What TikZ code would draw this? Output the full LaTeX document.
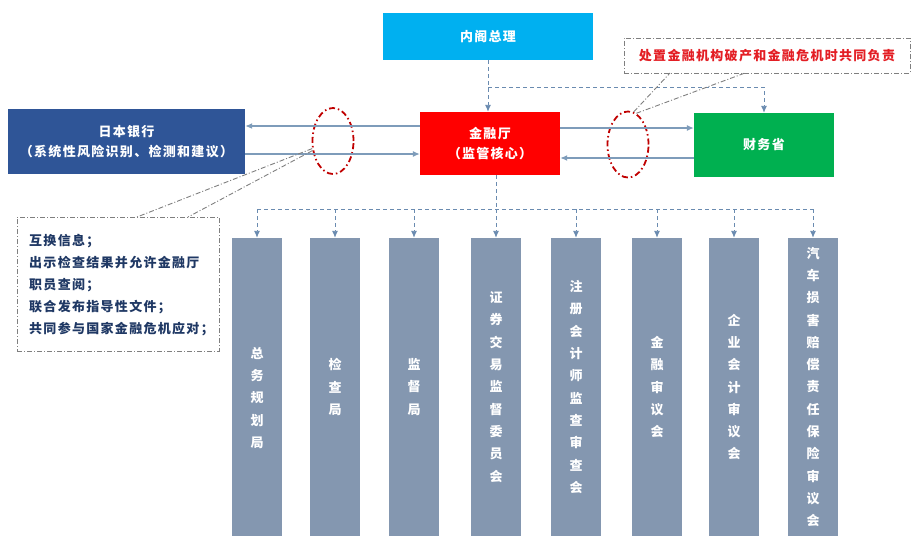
\documentclass[tikz,border=0pt]{standalone}
\usepackage{fontspec}
\setmainfont{Noto Sans CJK SC}
\usetikzlibrary{arrows.meta,shapes.geometric}
\definecolor{cabc}{HTML}{00B0F0}
\definecolor{bankc}{HTML}{2F5597}
\definecolor{fsac}{HTML}{FF0000}
\definecolor{mofc}{HTML}{00B050}
\definecolor{colc}{HTML}{8497B0}
\definecolor{arrc}{HTML}{7E9CBA}
\definecolor{dashc}{HTML}{6A8BB0}
\definecolor{callc}{HTML}{7F7F7F}
\definecolor{ellc}{HTML}{C00000}
\definecolor{infoc}{HTML}{1F3864}
\definecolor{notec}{HTML}{E31E24}
\newcommand\myfont[1]{\bfseries\fontsize{13}{#1}\selectfont\addfontfeatures{LetterSpace=10}}
\begin{document}
\begin{tikzpicture}[x=1pt,y=-1pt,
  topbox/.style={inner sep=0pt, align=center, text=white, font=\myfont{20}},
  colbox/.style={fill=colc, minimum width=50pt, minimum height=298pt, inner sep=0pt, align=center, text=white, font=\myfont{22.3}},
  coltext/.style={inner sep=0pt, align=center, text=white, font=\myfont{22.3}},
  arr/.style={draw=arrc, line width=1.2pt, -{Latex[length=7pt,width=6pt]}},
  dline/.style={draw=dashc, line width=0.9pt, dash pattern=on 4pt off 3pt},
  darr/.style={dline, -{Latex[length=7pt,width=6pt]}},
  callout/.style={draw=callc, line width=0.9pt, dash pattern=on 5pt off 2pt on 1pt off 2pt},
  ell/.style={ellipse, draw=ellc, line width=1.8pt, dash pattern=on 6pt off 3pt on 1.5pt off 3pt, minimum width=41pt, minimum height=66pt, inner sep=0pt},
  notebox/.style={draw=callc, line width=0.9pt, dash pattern=on 5pt off 2pt on 1pt off 2pt, inner sep=0pt}
]
\useasboundingbox (0,0) rectangle (913,546);
% main boxes
\node[topbox, fill=cabc, minimum width=210pt, minimum height=47pt] (cab) at (488,36.5) {内阁总理};
\node[topbox, fill=bankc, minimum width=237pt, minimum height=65pt] (bank) at (126.5,141.5) {日本银行\\（系统性风险识别、检测和建议）};
\node[topbox, fill=fsac, minimum width=140pt, minimum height=63pt] (fsa) at (490,143.5) {金融厅\\（监管核心）};
\node[topbox, fill=mofc, minimum width=140pt, minimum height=64pt] (mof) at (764,145) {财务省};
% note box
\node[notebox, minimum width=286pt, minimum height=35pt, text=notec, font=\myfont{16}] (note) at (767,55.5) {处置金融机构破产和金融危机时共同负责};
% info box
\node[notebox, minimum width=202pt, minimum height=134pt] (info) at (118,284) {};
\node[inner sep=0pt, anchor=west, align=left, text=infoc, font=\myfont{22}] (infotext) at (29,285) {互换信息；\\出示检查结果并允许金融厅\\职员查阅；\\联合发布指导性文件；\\共同参与国家金融危机应对；};
% ellipses
\node[ell] (e1) at (333,141) {};
\node[ell] (e2) at (628,144.5) {};
% columns
\node[colbox] (c1) at (257,387) {};
\node[coltext] (t1) at (257,398) {总\\务\\规\\划\\局};
\node[colbox] (c2) at (335,387) {检\\查\\局};
\node[colbox] (c3) at (414,387) {监\\督\\局};
\node[colbox] (c4) at (496,387) {证\\券\\交\\易\\监\\督\\委\\员\\会};
\node[colbox] (c5) at (576,387) {注\\册\\会\\计\\师\\监\\查\\审\\查\\会};
\node[colbox] (c6) at (657,387) {金\\融\\审\\议\\会};
\node[colbox] (c7) at (734,387) {企\\业\\会\\计\\审\\议\\会};
\node[colbox] (c8) at (813,387) {汽\\车\\损\\害\\赔\\偿\\责\\任\\保\\险\\审\\议\\会};
% helper coordinates
\coordinate (ya) at (0,126);
\coordinate (yb) at (0,154);
\coordinate (yc) at (0,128);
\coordinate (yd) at (0,158);
\coordinate (jc) at (488,87);
\coordinate (bus) at (0,209);
\coordinate (i1) at (137,217);
\coordinate (i2) at (188,217);
\coordinate (n1) at (670,73);
\coordinate (n2) at (745,73);
% solid arrows
\draw[arr] (fsa.west |- ya) -- (bank.east |- ya);
\draw[arr] (bank.east |- yb) -- (fsa.west |- yb);
\draw[arr] (fsa.east |- yc) -- (mof.west |- yc);
\draw[arr] (mof.west |- yd) -- (fsa.east |- yd);
% dashed from cabinet
\draw[darr] (cab.south) -- (cab.south |- fsa.north);
\draw[darr] (jc) -| (mof.north);
% dashed to columns
\draw[dline] (fsa.south -| c4.north) -- (c4.north |- bus);
\draw[dline] (c1.north |- bus) -- (c8.north |- bus);
\foreach \c in {c1,c2,c3,c4,c5,c6,c7,c8}{
  \draw[darr] (\c.north |- bus) -- (\c.north);
}
% callouts
\draw[callout] (e1.200) -- (i1);
\draw[callout] (e1.205) -- (i2);
\draw[callout] (e2.80) -- (n1);
\draw[callout] (e2.75) -- (n2);
\end{tikzpicture}
\end{document}
